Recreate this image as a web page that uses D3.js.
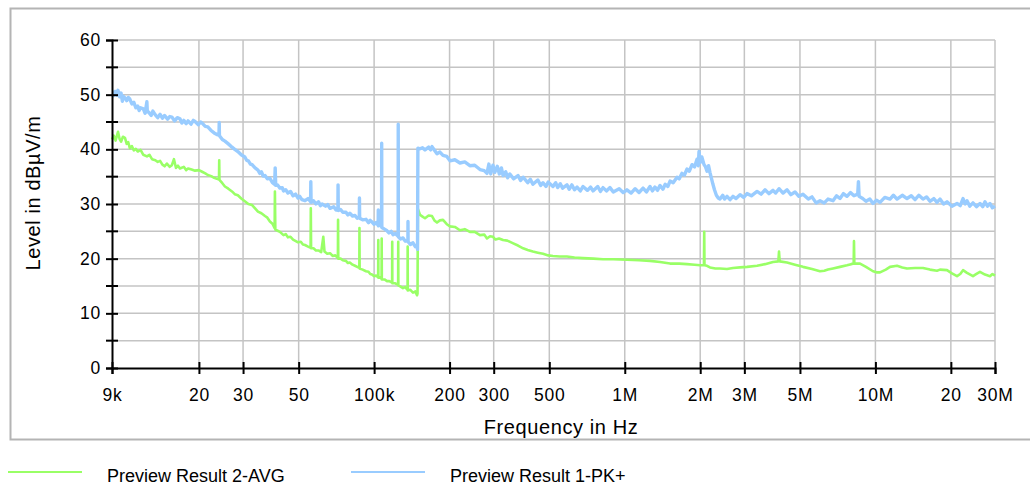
<!DOCTYPE html>
<html>
<head>
<meta charset="utf-8">
<script src="https://cdn.jsdelivr.net/npm/d3@7"></script>
<style>
  body { margin: 0; background: #fff; }
  text { font-family: "Liberation Sans", Arial, sans-serif; fill: #000; }
</style>
</head>
<body>
<div id="chart"></div>
<script>
// tick positions / labels of the log frequency axis
const freqTicks = [9e3, 2e4, 3e4, 5e4, 1e5, 2e5, 3e5, 5e5, 1e6, 2e6, 3e6, 5e6, 1e7, 2e7, 3e7];
const freqLabels = ["9k", "20", "30", "50", "100k", "200", "300", "500", "1M", "2M", "3M", "5M", "10M", "20", "30M"];
const levelTicks = [0, 10, 20, 30, 40, 50, 60];
const levelMinor = [5, 15, 25, 35, 45, 55];

// Preview Result 1-PK+  : [frequency kHz, level dBuV/m]
const peakData = [
  [9.0, 50.2], [9.1, 49.8], [9.25, 50.6], [9.4, 49.9], [9.51, 50.8], [9.65, 49.6], [9.78, 50.3], [9.9, 48.8],
  [10.0, 49.7], [10.14, 49.4], [10.3, 48.9], [10.45, 49.5], [10.6, 49.2], [10.8, 48.3], [11.0, 48.6], [11.2, 47.6],
  [11.4, 47.9], [11.55, 47.1], [11.7, 47.6], [12.0, 47.4], [12.2, 46.6], [12.4, 48.7], [12.45, 46.9], [12.6, 46.8],
  [12.9, 46.2], [13.1, 47.0], [13.4, 46.3], [13.7, 45.8], [14.0, 46.4], [14.3, 45.7], [14.6, 46.2], [15.0, 45.5],
  [15.3, 46.0], [15.6, 45.9], [16.0, 45.2], [16.4, 45.8], [16.8, 45.6], [17.1, 44.8], [17.4, 45.3], [17.8, 44.7],
  [18.1, 45.2], [18.6, 44.6], [19.0, 45.3], [19.3, 45.1], [19.9, 44.5], [20.3, 45.0], [20.6, 44.8], [21.2, 44.2],
  [21.7, 44.1], [22.3, 43.5], [23.0, 43.0], [23.6, 42.7], [24.05, 42.6], [24.1, 44.9], [24.15, 42.5], [24.8, 41.8],
  [25.4, 41.5], [26.2, 41.0], [27.1, 40.4], [27.8, 40.0], [28.6, 39.6], [29.5, 39.0], [30.5, 38.6], [31.0, 38.0],
  [31.5, 37.9], [32.1, 37.3], [32.6, 37.2], [33.5, 36.6], [34.4, 36.2], [35.0, 35.6], [35.5, 35.9], [36.1, 35.1],
  [36.7, 35.2], [37.5, 34.6], [38.4, 34.7], [39.3, 33.9], [40.1, 33.6], [40.3, 36.6], [40.5, 33.4], [41.2, 33.5],
  [42.1, 32.9], [43.0, 33.0], [43.5, 32.4], [44.4, 32.6], [45.3, 32.0], [46.4, 32.3], [47.5, 31.5], [48.6, 31.8],
  [49.7, 31.1], [50.5, 31.4], [51.5, 30.8], [53.0, 30.6], [54.5, 31.0], [55.8, 30.4], [55.9, 34.1], [56.05, 30.3],
  [57.3, 30.6], [58.6, 30.0], [60.0, 30.4], [61.0, 29.7], [62.0, 30.0], [64.0, 29.6], [65.3, 29.9], [66.7, 29.2],
  [69.0, 29.5], [70.5, 28.9], [71.7, 29.0], [71.8, 33.5], [71.95, 28.8], [73.5, 29.0], [75.0, 28.5], [77.2, 28.5],
  [78.6, 28.0], [80.0, 28.3], [82.0, 27.8], [83.9, 27.9], [85.6, 27.4], [87.3, 27.6], [87.4, 31.1], [87.55, 27.4],
  [90.0, 27.1], [92.8, 27.2], [95.0, 26.6], [96.5, 27.0], [98.1, 26.7], [100.0, 26.3], [101.8, 26.6], [103.8, 26.1],
  [103.9, 28.9], [104.0, 26.0], [105.5, 26.3], [107.1, 25.8], [107.2, 41.1], [107.35, 25.7], [110.0, 25.4],
  [112.6, 25.1], [114.6, 24.7], [117.0, 25.0], [119.0, 24.4], [121.5, 24.6], [124.7, 24.1], [124.8, 44.6],
  [124.95, 24.0], [127.5, 23.6], [130.4, 23.8], [133.0, 23.2], [136.4, 23.3], [136.5, 26.8], [136.65, 23.1],
  [139.5, 22.6], [142.9, 22.9], [146.0, 22.2], [148.3, 22.4], [149.0, 21.7], [149.5, 40.2], [152.5, 40.1],
  [156.0, 40.3], [159.6, 39.9], [165.0, 40.4], [168.0, 39.9], [170.2, 40.5], [175.0, 39.7], [178.2, 39.2],
  [183.0, 39.5], [188.3, 38.9], [195.0, 38.7], [200.8, 37.9], [210.0, 38.1], [220.0, 37.5], [230.0, 37.7],
  [241.0, 37.0], [252.0, 37.1], [264.5, 36.3], [275.0, 36.1], [282.0, 35.6], [287.0, 37.3], [292.0, 35.5],
  [298.0, 37.1], [303.0, 35.8], [310.0, 36.9], [316.0, 35.5], [322.0, 36.6], [327.0, 35.2], [335.0, 35.9],
  [341.0, 34.8], [348.0, 35.5], [360.0, 34.6], [375.0, 35.2], [384.0, 34.3], [393.0, 34.9], [410.0, 33.9],
  [420.0, 34.5], [430.0, 33.6], [450.0, 34.4], [462.0, 33.4], [472.0, 33.9], [485.0, 33.2], [495.0, 34.0],
  [517.0, 33.2], [530.0, 33.9], [540.0, 33.0], [553.0, 33.7], [565.0, 32.9], [588.0, 33.5], [600.0, 32.7],
  [615.0, 33.5], [630.0, 32.6], [645.0, 33.1], [665.0, 32.4], [681.0, 33.2], [710.0, 32.5], [730.0, 33.1],
  [747.0, 32.4], [780.0, 33.2], [800.0, 32.3], [819.0, 33.0], [845.0, 32.4], [873.0, 33.0], [900.0, 32.2],
  [950.0, 32.8], [985.0, 32.1], [1020.0, 32.6], [1060.0, 32.0], [1100.0, 32.8], [1140.0, 32.1], [1183.0, 32.9],
  [1220.0, 32.2], [1261.0, 33.2], [1290.0, 32.4], [1320.0, 33.1], [1350.0, 32.5], [1383.0, 33.4], [1420.0, 32.7],
  [1450.0, 33.6], [1485.0, 33.2], [1516.0, 34.2], [1560.0, 33.9], [1616.0, 34.9], [1650.0, 34.6], [1690.0, 35.6],
  [1730.0, 35.3], [1772.0, 36.4], [1810.0, 36.0], [1855.0, 37.2], [1900.0, 36.8], [1942.0, 38.2], [1965.0, 37.0],
  [1978.0, 39.6], [2000.0, 37.6], [2030.0, 38.6], [2071.0, 37.2], [2100.0, 36.8], [2129.0, 36.0], [2160.0, 37.0],
  [2187.0, 35.8], [2220.0, 34.6], [2248.0, 33.6], [2280.0, 32.6], [2320.0, 31.6], [2360.0, 31.1], [2398.0, 30.9],
  [2460.0, 31.6], [2500.0, 30.9], [2558.0, 31.4], [2630.0, 30.8], [2703.0, 31.4], [2780.0, 31.0], [2883.0, 31.7],
  [2980.0, 31.2], [3075.0, 31.9], [3200.0, 31.5], [3371.0, 32.3], [3500.0, 31.8], [3627.0, 32.6], [3760.0, 31.9],
  [3903.0, 32.5], [4000.0, 32.0], [4125.0, 32.8], [4280.0, 32.0], [4439.0, 32.6], [4600.0, 31.7], [4777.0, 32.2],
  [4950.0, 31.4], [5141.0, 31.8], [5400.0, 30.9], [5584.0, 31.3], [5800.0, 30.2], [6011.0, 30.6], [6250.0, 30.2],
  [6469.0, 30.9], [6773.0, 30.6], [7000.0, 31.5], [7223.0, 31.0], [7450.0, 31.9], [7701.0, 31.4], [7950.0, 32.1],
  [8213.0, 31.5], [8500.0, 31.8], [8556.0, 34.1], [8610.0, 31.4], [8900.0, 31.0], [9170.0, 30.5], [9500.0, 30.9],
  [9784.0, 30.1], [10100.0, 30.7], [10432.0, 30.3], [10900.0, 31.2], [11434.0, 30.9], [11800.0, 31.6],
  [12194.0, 30.9], [12800.0, 31.6], [13368.0, 31.0], [13900.0, 31.5], [14391.0, 30.8], [14900.0, 31.6],
  [15483.0, 30.9], [16000.0, 31.3], [16507.0, 30.5], [17100.0, 31.0], [17601.0, 30.3], [18098.0, 30.9],
  [18700.0, 30.0], [19299.0, 30.4], [20200.0, 29.6], [21163.0, 30.1], [21800.0, 29.7], [22367.0, 31.0],
  [22800.0, 30.0], [23196.0, 30.6], [23800.0, 29.6], [24507.0, 30.2], [25300.0, 29.5], [26134.0, 30.1],
  [26800.0, 29.5], [27364.0, 30.4], [28000.0, 29.6], [28653.0, 30.1], [29300.0, 29.3], [30000.0, 29.6]
];

// Preview Result 2-AVG : [frequency kHz, level dBuV/m]
const avgData = [
  [9.0, 41.8], [9.15, 42.5], [9.3, 41.6], [9.51, 43.2], [9.65, 41.9], [9.78, 41.4], [9.95, 42.3], [10.14, 42.1],
  [10.3, 41.0], [10.45, 41.3], [10.6, 40.2], [10.8, 40.6], [11.0, 39.8], [11.2, 40.1], [11.4, 39.6], [11.7, 39.9],
  [12.0, 39.0], [12.4, 38.7], [12.7, 39.0], [13.0, 38.2], [13.4, 38.0], [13.7, 37.7], [14.0, 37.9], [14.3, 37.2],
  [14.6, 36.9], [14.9, 37.4], [15.3, 36.8], [15.6, 37.1], [15.9, 38.2], [16.2, 36.6], [16.5, 37.0], [16.8, 36.5],
  [17.4, 36.8], [17.8, 36.2], [18.1, 36.5], [18.7, 36.3], [19.3, 36.1], [20.0, 36.2], [20.6, 35.9], [21.2, 35.6],
  [21.7, 35.3], [22.4, 35.1], [23.0, 34.8], [23.6, 34.6], [24.05, 34.5], [24.1, 38.0], [24.15, 34.4], [24.8, 33.8],
  [25.4, 33.2], [26.2, 32.8], [27.1, 32.3], [27.8, 31.8], [28.6, 31.6], [29.5, 31.0], [30.5, 30.5], [31.5, 30.0],
  [32.6, 29.8], [33.5, 29.2], [34.4, 28.6], [35.5, 28.3], [36.7, 27.8], [37.5, 27.5], [38.4, 26.8], [39.3, 26.4],
  [40.1, 25.6], [40.2, 32.3], [40.35, 25.3], [41.2, 25.1], [42.1, 24.9], [43.5, 24.3], [44.4, 24.5], [45.3, 23.9],
  [46.4, 24.0], [47.5, 23.5], [49.7, 23.0], [51.0, 23.1], [52.0, 22.6], [53.0, 22.5], [54.5, 22.2], [55.8, 22.0],
  [55.9, 29.2], [56.05, 21.9], [57.3, 21.9], [58.6, 21.5], [60.0, 21.5], [61.5, 21.2], [62.7, 24.0], [63.4, 21.3],
  [65.0, 20.9], [66.7, 21.0], [68.3, 20.5], [70.0, 20.6], [71.7, 20.1], [71.8, 27.1], [71.95, 20.0], [73.5, 20.0],
  [75.0, 19.7], [77.2, 19.6], [78.6, 19.2], [80.0, 19.3], [82.0, 18.9], [83.9, 18.7], [85.6, 18.5], [87.3, 18.3],
  [87.4, 25.6], [87.55, 18.2], [90.0, 18.0], [92.8, 17.7], [95.0, 17.6], [96.5, 17.2], [98.1, 17.1], [100.0, 16.8],
  [101.8, 16.9], [103.8, 16.6], [103.9, 23.4], [104.0, 16.5], [105.5, 16.6], [107.1, 16.3], [107.2, 23.7],
  [107.35, 16.2], [110.0, 16.2], [112.6, 15.9], [115.0, 15.9], [118.0, 15.6], [118.1, 23.1], [118.2, 15.5],
  [121.5, 15.5], [124.7, 15.2], [124.8, 23.1], [124.95, 15.1], [127.5, 14.9], [130.4, 14.6], [133.0, 14.8],
  [136.0, 14.3], [136.1, 22.2], [136.25, 14.2], [139.5, 14.3], [142.9, 13.8], [146.0, 14.0], [148.3, 13.3],
  [149.0, 13.6], [149.5, 29.1], [152.5, 28.0], [156.0, 27.7], [159.6, 27.4], [165.0, 27.9], [170.2, 27.8],
  [174.0, 27.0], [178.2, 26.6], [183.0, 27.0], [188.3, 27.1], [195.0, 26.3], [200.8, 25.9], [210.0, 25.8],
  [220.0, 25.2], [230.0, 25.4], [241.0, 24.9], [252.0, 24.9], [264.5, 24.3], [275.0, 24.4], [282.0, 23.7],
  [290.0, 24.1], [298.0, 24.0], [305.0, 23.5], [315.0, 23.7], [327.0, 23.4], [340.0, 23.3], [359.0, 22.8],
  [375.0, 22.4], [393.0, 21.9], [410.0, 21.6], [430.0, 21.3], [450.0, 21.1], [472.0, 20.9], [495.0, 20.6],
  [517.0, 20.5], [550.0, 20.4], [588.0, 20.4], [630.0, 20.2], [681.0, 20.1], [750.0, 20.0], [819.0, 19.9],
  [900.0, 19.9], [1020.0, 19.8], [1140.0, 19.7], [1261.0, 19.6], [1383.0, 19.4], [1516.0, 19.1], [1650.0, 19.1],
  [1772.0, 19.0], [1900.0, 18.9], [2000.0, 18.8], [2070.0, 18.8], [2075.0, 24.9], [2080.0, 18.8], [2129.0, 18.7],
  [2187.0, 18.4], [2300.0, 18.2], [2398.0, 18.2], [2558.0, 18.1], [2703.0, 18.3], [2883.0, 18.4], [3075.0, 18.5],
  [3371.0, 18.7], [3627.0, 19.0], [3903.0, 19.4], [4100.0, 19.5], [4125.0, 21.3], [4150.0, 19.5], [4439.0, 19.3],
  [4777.0, 18.9], [5141.0, 18.5], [5584.0, 18.1], [6011.0, 17.7], [6250.0, 17.8], [6469.0, 18.0], [6773.0, 18.2],
  [7223.0, 18.5], [7701.0, 18.8], [8000.0, 19.0], [8190.0, 19.1], [8213.0, 23.2], [8240.0, 19.1], [8680.0, 19.1],
  [9170.0, 18.5], [9784.0, 17.7], [10100.0, 17.5], [10432.0, 17.5], [11000.0, 18.0], [11434.0, 18.5],
  [12194.0, 18.7], [12800.0, 18.4], [13368.0, 18.2], [14391.0, 18.3], [15483.0, 18.3], [16507.0, 18.0],
  [17601.0, 17.8], [18098.0, 18.0], [19299.0, 17.9], [20200.0, 17.3], [21163.0, 16.8], [21800.0, 17.2],
  [22367.0, 17.9], [23196.0, 17.4], [24507.0, 16.8], [25300.0, 17.2], [26134.0, 17.6], [27364.0, 17.1],
  [28653.0, 16.8], [29300.0, 17.2], [30000.0, 16.9]
];

const seriesNames = ["Preview Result 2-AVG", "Preview Result 1-PK+"];
const seriesColors = ["#99ff66", "#99ccff"];

const width = 1030, height = 486;
const margin = {top: 40, right: 35, bottom: 118, left: 112};

const svg = d3.select("#chart").append("svg")
    .attr("width", width)
    .attr("height", height);

// outer frame of the diagram
svg.append("rect")
    .attr("x", 10.5).attr("y", 8.5)
    .attr("width", 1030).attr("height", 431)
    .attr("fill", "none")
    .attr("stroke", "#b4b4b4")
    .attr("stroke-width", 2);

const xScale = d3.scaleLog()
    .domain([9e3, 3e7])
    .range([margin.left, width - margin.right]);

const yScale = d3.scaleLinear()
    .domain([0, 60])
    .range([height - margin.bottom, margin.top]);

const plot = svg.append("g").attr("id", "plot");

// grid
const grid = plot.append("g").attr("id", "grid")
    .attr("stroke", "#c4c4c4")
    .attr("stroke-width", 1.5);
grid.selectAll(".vgrid").data(freqTicks.slice(1)).enter().append("line")
    .attr("x1", d => xScale(d)).attr("x2", d => xScale(d))
    .attr("y1", yScale(60)).attr("y2", yScale(0));
grid.selectAll(".hgrid").data(levelTicks.concat(levelMinor).filter(d => d > 0)).enter().append("line")
    .attr("x1", xScale(9e3)).attr("x2", xScale(3e7))
    .attr("y1", d => yScale(d)).attr("y2", d => yScale(d));

// traces
const line = d3.line()
    .x(d => xScale(d[0] * 1000))
    .y(d => yScale(d[1]));

plot.append("path")
    .datum(avgData)
    .attr("fill", "none")
    .attr("stroke", seriesColors[0])
    .attr("stroke-width", 2.6)
    .attr("stroke-linejoin", "round")
    .attr("d", line);

plot.append("path")
    .datum(peakData)
    .attr("fill", "none")
    .attr("stroke", seriesColors[1])
    .attr("stroke-width", 3.4)
    .attr("stroke-linejoin", "round")
    .attr("d", line);

// axes, ticks cross the axis line on both sides
const xAxis = d3.axisBottom(xScale)
    .tickValues(freqTicks)
    .tickFormat((d, i) => freqLabels[i])
    .tickSizeOuter(0)
    .tickSize(6);
const gx = plot.append("g")
    .attr("transform", "translate(0," + yScale(0) + ")")
    .call(xAxis);
gx.select(".domain").attr("stroke-width", 2);
gx.selectAll(".tick line").attr("y1", -6).attr("stroke-width", 2);
gx.selectAll(".tick text")
    .attr("y", 21)
    .attr("dy", "0.71em");

const yAxis = d3.axisLeft(yScale)
    .tickValues(levelTicks)
    .tickSizeOuter(0)
    .tickSize(6);
const gy = plot.append("g")
    .attr("transform", "translate(" + xScale(9e3) + ",0)")
    .call(yAxis);
gy.select(".domain").attr("stroke-width", 2);
gy.selectAll(".tick line").attr("x2", 6).attr("x1", -6).attr("stroke-width", 2);
gy.selectAll(".tick text")
    .attr("x", -11);
gy.selectAll(".minor").data(levelMinor).enter().append("line")
    .attr("x1", -6).attr("x2", 6)
    .attr("y1", d => yScale(d)).attr("y2", d => yScale(d))
    .attr("stroke", "#000").attr("stroke-width", 2);
svg.selectAll(".tick text")
    .style("font-family", "'Liberation Sans', Arial, sans-serif")
    .style("font-size", "17.5px")
    .style("letter-spacing", "0.8px");

// axis titles
svg.append("text")
    .text("Frequency in Hz")
    .attr("x", 561).attr("y", 434)
    .attr("text-anchor", "middle")
    .style("font-size", "20px")
    .style("letter-spacing", "0.6px");
svg.append("text")
    .text("Level in dBµV/m")
    .attr("transform", "translate(40,193) rotate(-90)")
    .attr("text-anchor", "middle")
    .style("font-size", "20px")
    .style("letter-spacing", "0.6px");

// legend
const legend = svg.append("g").attr("id", "legend");
const legendX = [8, 351];
seriesNames.forEach((name, i) => {
    legend.append("line")
        .attr("x1", legendX[i]).attr("x2", legendX[i] + 74)
        .attr("y1", 472).attr("y2", 472)
        .attr("stroke", seriesColors[i]).attr("stroke-width", 2);
    legend.append("text")
        .text(name)
        .attr("x", legendX[i] + 99).attr("y", 482)
        .style("font-size", "18px");
});
</script>
</body>
</html>
